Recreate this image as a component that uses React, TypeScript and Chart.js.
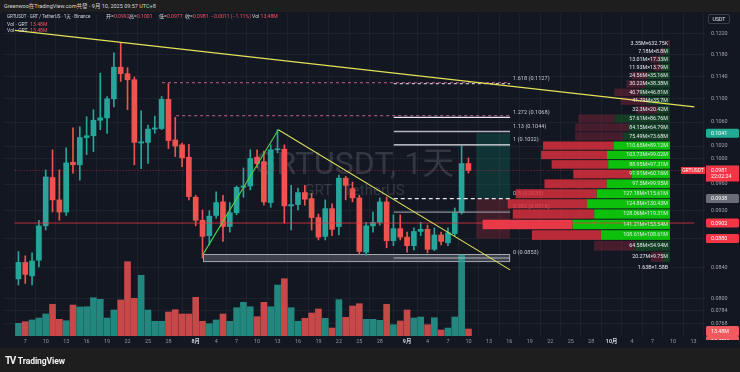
import React, { useEffect, useRef } from "react";
import { Chart, registerables } from "chart.js";

Chart.register(...registerables);

const FONT = "Roboto, 'Noto Sans CJK SC', sans-serif";

// ---- data -----------------------------------------------------------------
const dates = [
  "07-06","07-07","07-08","07-09","07-10","07-11","07-12","07-13","07-14","07-15","07-16","07-17","07-18",
  "07-19","07-20","07-21","07-22","07-23","07-24","07-25","07-26","07-27","07-28","07-29","07-30","07-31",
  "08-01","08-02","08-03","08-04","08-05","08-06","08-07","08-08","08-09","08-10","08-11","08-12","08-13",
  "08-14","08-15","08-16","08-17","08-18","08-19","08-20","08-21","08-22","08-23","08-24","08-25","08-26",
  "08-27","08-28","08-29","08-30","08-31",
  "09-01","09-02","09-03","09-04","09-05","09-06","09-07","09-08","09-09","09-10",
];
const opens = [
  0.0825,0.0847,0.0829,0.0850,0.0898,0.0970,0.0936,0.0918,0.0994,0.0990,0.1034,0.1037,0.1063,
  0.1067,0.1100,0.1157,0.1145,0.1134,0.1025,0.1026,0.1048,0.1049,0.1099,0.1030,0.1022,0.1002,
  0.0940,0.0906,0.0884,0.0913,0.0933,0.0897,0.0917,0.0955,0.0957,0.1002,0.0995,0.0932,0.1014,
  0.1015,0.0927,0.0929,0.0947,0.0938,0.0910,0.0883,0.0923,0.0897,0.0969,0.0953,0.0939,0.0861,
  0.0898,0.0903,0.0933,0.0877,0.0894,
  0.0882,0.0870,0.0890,0.0893,0.0865,0.0885,0.0874,0.0887,0.0917,0.0992,
];
const highs = [
  0.0862,0.0856,0.0860,0.0906,0.0982,0.1014,0.0982,0.1017,0.1050,0.1052,0.1069,0.1081,0.1146,
  0.1104,0.1184,0.1203,0.1156,0.1139,0.1079,0.1055,0.1070,0.1104,0.1127,0.1068,0.1025,0.1023,
  0.0943,0.0921,0.0920,0.0948,0.0943,0.0932,0.0957,0.0985,0.1014,0.1014,0.1012,0.1022,0.1047,
  0.1022,0.0958,0.0954,0.0958,0.0946,0.0915,0.0936,0.0930,0.0974,0.0972,0.0963,0.0943,0.0903,
  0.0918,0.0939,0.0940,0.0914,0.0914,
  0.0889,0.0895,0.0903,0.0899,0.0895,0.0889,0.0895,0.0924,0.1020,0.1001,
];
const lows = [
  0.0817,0.0819,0.0817,0.0841,0.0892,0.0918,0.0906,0.0913,0.0977,0.0966,0.1006,0.1011,0.1047,
  0.1041,0.1086,0.1131,0.1081,0.0990,0.0984,0.0992,0.1041,0.1047,0.1016,0.1003,0.0987,0.0936,
  0.0898,0.0853,0.0871,0.0909,0.0876,0.0889,0.0914,0.0940,0.0951,0.0985,0.0928,0.0925,0.1009,
  0.0902,0.0892,0.0921,0.0928,0.0892,0.0878,0.0878,0.0884,0.0885,0.0936,0.0933,0.0858,0.0857,
  0.0889,0.0899,0.0867,0.0870,0.0878,
  0.0861,0.0864,0.0884,0.0860,0.0863,0.0871,0.0870,0.0884,0.0915,0.0977,
];
const closes = [
  0.0847,0.0831,0.0849,0.0898,0.0971,0.0936,0.0918,0.0993,0.0990,0.1034,0.1037,0.1063,0.1067,
  0.1100,0.1157,0.1145,0.1134,0.1026,0.1027,0.1048,0.1050,0.1099,0.1029,0.1020,0.1001,0.0941,
  0.0906,0.0883,0.0912,0.0932,0.0897,0.0917,0.0955,0.0957,0.1000,0.0992,0.0933,0.1014,0.1015,
  0.0927,0.0929,0.0947,0.0937,0.0910,0.0882,0.0923,0.0893,0.0969,0.0958,0.0939,0.0862,0.0898,
  0.0903,0.0933,0.0877,0.0894,0.0882,
  0.0870,0.0890,0.0893,0.0865,0.0885,0.0876,0.0888,0.0917,0.0992,0.0981,
];
// volume, millions
const volumes = [
  24.5,27.6,30.9,34.7,42.5,61.2,32.2,29.5,59.8,56.0,56.5,73.9,70.8,
  34.7,50.2,69.5,143.4,72.8,117.2,50.2,28.4,28.4,46.3,50.8,42.5,42.5,
  74.7,28.4,23.7,30.9,42.5,28.4,54.6,65.0,56.5,37.2,65.0,56.5,98.4,
  110.6,54.6,28.4,34.2,44.4,52.1,34.2,15.4,70.1,36.1,57.9,62.3,32.2,
  32.2,30.3,61.2,21.8,29.0,
  50.2,34.7,36.7,21.8,35.3,11.6,15.4,36.7,156.3,13.48,
];

const xTickDates = [
  "07-07","07-10","07-13","07-16","07-19","07-22","07-25","07-28",
  "08-01","08-04","08-07","08-10","08-13","08-16","08-19","08-22","08-25","08-28",
  "09-01","09-04","09-07","09-10","09-13","09-16","09-19","09-22","09-25","09-28",
  "10-01","10-04","10-07","10-10","10-13",
];
const xTickLabels = [
  "7","10","13","16","19","22","25","28",
  "8月","4","7","10","13","16","19","22","25","28",
  "9月","4","7","10","13","16","19","22","25","28",
  "10月","4","7","10","13",
];
const yTicks = [0.122,0.118,0.114,0.11,0.106,0.102,0.1,0.096,0.092,0.088,0.084,0.08,0.0784,0.0768];

const fibRatios = ["1.618","1.272","1.13","1","0.5","0.382","0"];
const fibPrices = [0.1127,0.1068,0.1044,0.1022,0.0938,0.0918,0.0853];

// fixed range volume profile rows (price centre, sell / buy volume in M)
const profilePrices = [
  0.12020,0.11869,0.11718,0.11567,0.11416,0.11265,0.11114,0.10963,0.10812,0.10661,0.10510,0.10359,
  0.10208,0.10057,0.09906,0.09755,0.09604,0.09453,0.09302,0.09151,0.09000,0.08849,0.08698,0.08547,
];
const profileSell = [
  3.35,7.18,13.01,11.93,24.56,30.22,40.79,41.79,32.3,57.61,84.15,75.49,
  110.65,103.73,88.95,91.91,97.5,127.18,124.8,128.06,141.21,108.61,64.58,20.27,
];
const profileBuy = [
  0.63275,8.8,17.33,13.79,35.16,38.38,46.81,35.7,20.42,86.76,64.79,73.68,
  89.12,99.02,97.31,60.16,99.95,115.61,130.43,119.31,153.54,108.61,54.94,9.75,
];
const profileStep = 0.00151;

// drawings (x in day index from Jul 1, y in price)
const longTrendX = [4.44, 104.14];
const longTrendY = [0.1227, 0.1086];
const riseX = [32.07, 43.12];
const riseY = [0.0858, 0.1047];
const fallX = [43.12, 77.11];
const fallY = [0.1047, 0.0837];
const fibStartX = 60.05;
const toolEndX = 77.11;
const pinkLevelsX = [26.05, 28.14];
const pinkLevelsY = [0.1129, 0.1071];
const boxX = [32.07, 77.11];
const boxY = [0.08585, 0.08475];
const longPosX = [72.13, 77.11];
const longPos = { target: 0.1041, entry: 0.0938, stop: 0.088 };
const pocPrice = 0.0902;
const lastPrice = 0.0981;
const lastVolume = 13.48;

const X_MIN = 4.44;
const X_MAX = 104.14;

const toIdx = (d: string) => {
  const [m, day] = d.split("-").map(Number);
  return Math.round((Date.UTC(2025, m - 1, day) - Date.UTC(2025, 6, 1)) / 86400000);
};

const fmtM = (v: number) => (v < 1 ? `${Number((v * 1000).toFixed(2))}K` : `${Number(v.toFixed(2))}M`);

const UP = "#26a69a";
const DOWN = "#ef5350";

function badge(ctx: CanvasRenderingContext2D, yc: number, text: string, bg: string, fg = "#ffffff", h = 9) {
  ctx.fillStyle = bg;
  const x = 706, w = 33;
  ctx.beginPath();
  (ctx as any).roundRect ? (ctx as any).roundRect(x, yc - h / 2, w, h, 1.5) : ctx.rect(x, yc - h / 2, w, h);
  ctx.fill();
  ctx.fillStyle = fg;
  ctx.font = `5.3px ${FONT}`;
  ctx.textAlign = "left";
  ctx.textBaseline = "middle";
  ctx.fillText(text, x + 5, yc + 0.3);
}

export default function App() {
  const canvasRef = useRef<HTMLCanvasElement | null>(null);

  useEffect(() => {
    document.body.style.margin = "0";
    const xs = dates.map(toIdx);
    const isUp = closes.map((c, i) => c >= opens[i]);
    const xTickIdx = xTickDates.map(toIdx);
    const monthTicks = new Set(xTickLabels.map((l, i) => (l.includes("月") ? xTickIdx[i] : -1)));

    const line = (xv: number[], yv: number[], color: string, width: number, dash: number[] = [], order = 0) => ({
      type: "line",
      data: xv.map((x, i) => ({ x, y: yv[i] })),
      borderColor: color,
      borderWidth: width,
      borderDash: dash,
      pointRadius: 0,
      fill: false,
      tension: 0,
      order,
      xAxisID: "x",
      yAxisID: "y",
    });

    const fibColors = ["rgba(210,212,220,0.9)", "#e8e9ee", "#b2b5be", "#e8e9ee", "#e8e9ee", "#8d9099", "#b2b5be"];
    const fibDash = [[3, 3], [], [], [], [4, 3], [], []];
    const fibDatasets = fibPrices.map((p, i) =>
      line([fibStartX, toolEndX], [p, p], fibColors[i], i === 2 ? 1.6 : 1.2, fibDash[i], 0)
    );

    const overlay = {
      id: "overlay",
      beforeDatasetsDraw(chart: any) {
        const { ctx, chartArea, scales } = chart;
        const y = scales.y, x = scales.x, xp = scales.xp;
        ctx.save();
        ctx.beginPath();
        ctx.rect(chartArea.left, chartArea.top, chartArea.right - chartArea.left, chartArea.bottom - chartArea.top);
        ctx.clip();

        // watermark
        const cx = (chartArea.left + chartArea.right) / 2;
        ctx.fillStyle = "rgba(150,154,166,0.24)";
        ctx.textAlign = "center";
        ctx.textBaseline = "middle";
        ctx.font = `32px ${FONT}`;
        ctx.fillText("GRTUSDT, 1天", cx, 166);
        ctx.font = `15px ${FONT}`;
        ctx.fillText("GRT · TetherUS", cx, 191);

        // long position tool
        const lx0 = x.getPixelForValue(longPosX[0]), lx1 = x.getPixelForValue(longPosX[1]);
        const yT = y.getPixelForValue(longPos.target), yE = y.getPixelForValue(longPos.entry), yS = y.getPixelForValue(longPos.stop);
        ctx.fillStyle = "rgba(8,153,129,0.22)";
        ctx.fillRect(lx0, yT, lx1 - lx0, yE - yT);
        ctx.fillStyle = "rgba(242,54,69,0.2)";
        ctx.fillRect(lx0, yE, lx1 - lx0, yS - yE);

        // grey support box
        const bx0 = x.getPixelForValue(boxX[0]), bx1 = x.getPixelForValue(boxX[1]);
        const by0 = y.getPixelForValue(boxY[0]), by1 = y.getPixelForValue(boxY[1]);
        ctx.fillStyle = "rgba(120,123,134,0.42)";
        ctx.fillRect(bx0, by0, bx1 - bx0, by1 - by0);
        ctx.strokeStyle = "#a5a8b1";
        ctx.lineWidth = 1;
        ctx.strokeRect(bx0 + 0.5, by0 + 0.5, bx1 - bx0 - 1, by1 - by0 - 1);

        // fib labels
        ctx.font = `5.6px ${FONT}`;
        ctx.textAlign = "left";
        ctx.textBaseline = "middle";
        ctx.fillStyle = "#c3c6ce";
        const fx = x.getPixelForValue(toolEndX) + 3;
        fibPrices.forEach((p, i) => {
          ctx.fillText(`${fibRatios[i]} (${p.toFixed(4)})`, fx, y.getPixelForValue(p) - 5);
        });

        // volume profile
        profilePrices.forEach((p, i) => {
          const top = y.getPixelForValue(p + profileStep / 2);
          const bot = y.getPixelForValue(p - profileStep / 2);
          const h = bot - top - 1;
          const bright = i >= 12 && i <= 21;
          const poc = i === 20;
          const x0 = xp.getPixelForValue(0);
          const xb = xp.getPixelForValue(profileBuy[i]);
          const xt = xp.getPixelForValue(profileBuy[i] + profileSell[i]);
          ctx.fillStyle = bright ? "#0cc00c" : "rgba(22,110,40,0.45)";
          ctx.fillRect(xb, top + 0.5, x0 - xb, h);
          ctx.fillStyle = poc ? "rgba(242,60,75,0.95)" : bright ? "rgba(222,48,62,0.82)" : "rgba(150,40,65,0.4)";
          ctx.fillRect(xt, top + 0.5, xb - xt, h);
        });
        ctx.restore();
      },
      afterDraw(chart: any) {
        const { ctx, scales } = chart;
        const y = scales.y, xp = scales.xp, yv = scales.yVol;
        ctx.save();
        // profile labels
        ctx.font = `5.3px ${FONT}`;
        ctx.textAlign = "right";
        ctx.textBaseline = "middle";
        ctx.fillStyle = "#e6e8ee";
        const rx = xp.getPixelForValue(0) - 2;
        let lastBot = 0;
        profilePrices.forEach((p, i) => {
          const top = y.getPixelForValue(p + profileStep / 2);
          const bot = y.getPixelForValue(p - profileStep / 2);
          lastBot = bot;
          ctx.fillText(`${fmtM(profileSell[i])}×${fmtM(profileBuy[i])}`, rx, (top + bot) / 2);
        });
        const sumS = profileSell.reduce((a, b) => a + b, 0);
        const sumB = profileBuy.reduce((a, b) => a + b, 0);
        ctx.fillText(`${(sumS / 1000).toFixed(2)}B×${(sumB / 1000).toFixed(2)}B`, rx, lastBot + 5.5);

        // symbol label at last price
        const yl = y.getPixelForValue(lastPrice);
        ctx.fillStyle = "#f23645";
        ctx.fillRect(681, yl - 3.5, 24, 7);
        ctx.fillStyle = "#ffffff";
        ctx.font = `5px ${FONT}`;
        ctx.textAlign = "center";
        ctx.fillText("GRTUSDT", 693, yl + 0.2);

        // axis badges
        badge(ctx, y.getPixelForValue(longPos.target), longPos.target.toFixed(4), "#22ab94");
        badge(ctx, y.getPixelForValue(longPos.entry), longPos.entry.toFixed(4), "#6a6d78");
        badge(ctx, y.getPixelForValue(pocPrice), pocPrice.toFixed(4), "#f23645");
        badge(ctx, y.getPixelForValue(longPos.stop), longPos.stop.toFixed(4), "#f23645");
        // last price badge with countdown
        ctx.fillStyle = "#f23645";
        ctx.fillRect(706, yl - 5, 33, 16);
        ctx.fillStyle = "#ffffff";
        ctx.font = `5.3px ${FONT}`;
        ctx.textAlign = "left";
        ctx.fillText(lastPrice.toFixed(4), 711, yl);
        ctx.fillText("22:02:24", 711, yl + 6.5);
        // volume badges
        const yb = yv.getPixelForValue(lastVolume) + 2;
        ctx.save();
        ctx.beginPath();
        ctx.rect(705, 0, 35, 340);
        ctx.clip();
        badge(ctx, yb, `${lastVolume.toFixed(2)}M`, "#f05a5f", "#ffffff", 10);
        badge(ctx, yb + 10, `${lastVolume.toFixed(2)}M`, "#f05a5f", "#ffffff", 10);
        ctx.restore();
        ctx.restore();
      },
    };

    const chart = new Chart(canvasRef.current as HTMLCanvasElement, {
      type: "bar",
      data: {
        datasets: [
          line(longTrendX, longTrendY, "#e3e05a", 1.3),
          line(riseX, riseY, "#4cd24c", 1.1),
          line(fallX, fallY, "#dede5a", 1.1),
          line([pinkLevelsX[0], toolEndX], [pinkLevelsY[0], pinkLevelsY[0]], "rgba(186,92,134,0.85)", 1.2, [3, 3], 1),
          line([pinkLevelsX[1], toolEndX], [pinkLevelsY[1], pinkLevelsY[1]], "rgba(186,92,134,0.85)", 1.2, [3, 3], 1),
          ...fibDatasets,
          line([X_MIN, X_MAX], [pocPrice, pocPrice], "rgba(242,54,69,0.75)", 1, [], 1),
          line([X_MIN, X_MAX], [lastPrice, lastPrice], "rgba(242,54,69,0.55)", 1, [1, 2], 1),
          {
            type: "bar",
            data: xs.map((x, i) => ({ x, y: [opens[i], closes[i]] })),
            backgroundColor: isUp.map((u) => (u ? UP : DOWN)),
            barThickness: 5,
            minBarLength: 1,
            grouped: false,
            borderWidth: 0,
            order: 2,
            xAxisID: "x",
            yAxisID: "y",
          },
          {
            type: "bar",
            data: xs.map((x, i) => ({ x, y: [lows[i], highs[i]] })),
            backgroundColor: isUp.map((u) => (u ? UP : DOWN)),
            barThickness: 1,
            grouped: false,
            borderWidth: 0,
            order: 3,
            xAxisID: "x",
            yAxisID: "y",
          },
          {
            type: "bar",
            data: xs.map((x, i) => ({ x, y: volumes[i] })),
            backgroundColor: isUp.map((u) => (u ? "rgba(38,166,154,0.78)" : "rgba(239,83,80,0.82)")),
            barThickness: 6,
            grouped: false,
            borderWidth: 0,
            order: 4,
            xAxisID: "x",
            yAxisID: "yVol",
          },
        ] as any,
      },
      options: {
        animation: false,
        responsive: false,
        events: [],
        layout: { padding: { left: 4, right: 0, top: 14, bottom: 25 } },
        plugins: { legend: { display: false }, tooltip: { enabled: false } },
        scales: {
          x: {
            type: "linear",
            position: "bottom",
            min: X_MIN,
            max: X_MAX,
            afterBuildTicks: (s: any) => {
              s.ticks = xTickIdx.map((v) => ({ value: v }));
            },
            afterFit: (s: any) => {
              s.height = 11;
            },
            grid: { color: "rgba(42,46,57,0.45)", drawTicks: false },
            border: { display: false },
            ticks: {
              autoSkip: false,
              maxRotation: 0,
              padding: 2,
              color: (c: any) => (monthTicks.has(c.tick?.value) ? "#d1d4dc" : "#9598a1"),
              font: (c: any) => ({ size: 5.4, family: FONT, weight: monthTicks.has(c.tick?.value) ? "bold" : "normal" }),
              callback: (_v: any, i: number) => xTickLabels[i],
            },
          },
          xp: {
            type: "linear",
            axis: "x",
            display: false,
            min: 0,
            max: 701 / 0.706,
            reverse: true,
          },
          y: {
            type: "logarithmic",
            position: "right",
            min: 0.07531,
            max: 0.12596,
            afterBuildTicks: (s: any) => {
              s.ticks = yTicks.map((v) => ({ value: v }));
            },
            afterFit: (s: any) => {
              s.width = 35;
            },
            grid: { color: "rgba(42,46,57,0.45)", drawTicks: false },
            border: { display: false },
            ticks: {
              autoSkip: false,
              padding: 6,
              color: "#a3a6af",
              font: { size: 5.4, family: FONT },
              callback: (v: any) => Number(v).toFixed(4),
            },
          },
          yVol: {
            type: "linear",
            display: false,
            min: 0,
            max: 322 * 1.93,
          },
        } as any,
      },
      plugins: [overlay],
    } as any);
    return () => chart.destroy();
  }, []);

  const legendRow = (top: number, children: React.ReactNode) => (
    <div style={{ position: "absolute", left: 7, top, height: 7, lineHeight: "7px", fontSize: 5.1, whiteSpace: "nowrap", color: "#d1d4dc" }}>
      {children}
    </div>
  );
  const abs = (left: number, content: React.ReactNode, color = "#d1d4dc", extra: any = {}) => (
    <span style={{ position: "absolute", left: left - 7, top: 0, color, ...extra }}>{content}</span>
  );
  const red = "#f7525f";

  return (
    <div style={{ position: "fixed", left: 0, top: 0, width: 740, height: 372, background: "#1e1e1e", overflow: "hidden", fontFamily: FONT }}>
      <div style={{ position: "absolute", left: 4, top: 2, fontSize: 5.5, lineHeight: "8px", color: "#d6d6d6", whiteSpace: "nowrap" }}>
        Greenwoo在TradingView.com共發 - 9月 10, 2025 09:57 UTC+8
      </div>
      <div style={{ position: "absolute", left: 0, top: 12, width: 740, height: 336, background: "#131722", borderRadius: 3 }} />
      <canvas ref={canvasRef} width={740} height={372} style={{ position: "absolute", left: 0, top: 0 }} />
      {legendRow(13.3, <>
        {abs(7, "GRTUSDT · GRT / TetherUS · 1天 · Binance", "#d1d4dc", { fontSize: 4.5 })}
        {abs(106, <>开=<span style={{ color: red }}>0.0992</span></>)}
        {abs(129, <>高=<span style={{ color: red }}>0.1001</span></>)}
        {abs(159, <>低=<span style={{ color: red }}>0.0977</span></>)}
        {abs(185, <>收=<span style={{ color: red }}>0.0981</span></>)}
        {abs(211, "−0.0011 (−1.11%)", red)}
        {abs(252, <>Vol <span style={{ color: red }}>13.48M</span></>)}
      </>)}
      {legendRow(20.5, <>{abs(7, <>Vol · GRT&nbsp;&nbsp;<span style={{ color: red }}>13.48M</span></>)}</>)}
      {legendRow(27.3, <>{abs(7, <>Vol · GRT&nbsp;&nbsp;<span style={{ color: red }}>13.48M</span></>)}</>)}
      <div style={{ position: "absolute", left: 708, top: 14, width: 20, height: 8, border: "1px solid #3a3e4a", borderRadius: 2, fontSize: 5.2, lineHeight: "8px", color: "#e0e3eb", textAlign: "center", background: "#131722" }}>
        USDT
      </div>
      <div style={{ position: "absolute", left: 5, top: 355, display: "flex", alignItems: "center", color: "#f0f0f0", fontWeight: 700, whiteSpace: "nowrap" }}>
        <span style={{ fontSize: 10, letterSpacing: -1.5, marginRight: 3, lineHeight: "12px" }}>TV</span>
        <span style={{ fontSize: 8.6, letterSpacing: -0.1, lineHeight: "12px" }}>TradingView</span>
      </div>
    </div>
  );
}
